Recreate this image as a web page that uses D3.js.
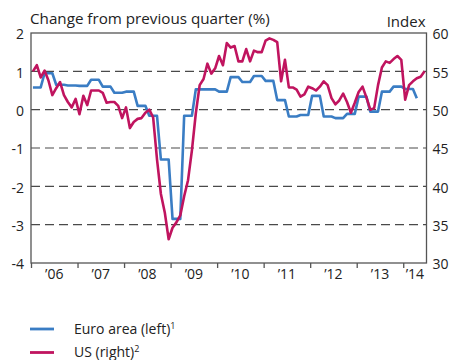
<!DOCTYPE html>
<html>
<head>
<meta charset="utf-8">
<script src="https://cdn.jsdelivr.net/npm/d3@7"></script>
<style>
  html, body { margin: 0; padding: 0; background: #fff; }
  svg { display: block; }
  text { font-family: "Open Sans", "Noto Sans", sans-serif; fill: #222; }
</style>
</head>
<body>
<svg id="chart" width="452" height="360"></svg>
<script>
// Euro area GDP, change from previous quarter (%), 2006 Q1 – 2014 Q2
const euroQuarterly = [
  0.58, 0.95, 0.65, 0.63,
  0.62, 0.78, 0.60, 0.44,
  0.47, 0.10, -0.16, -1.30,
  -2.85, -0.16, 0.53, 0.53,
  0.47, 0.85, 0.72, 0.88,
  0.75, 0.25, -0.18, -0.14,
  0.36, -0.18, -0.22, -0.11,
  0.34, -0.05, 0.47, 0.60,
  0.54, 0.30
];
// months of the last quarter that are already available
const euroLastQuarterMonths = 1;

// US manufacturing index, monthly, Jan 2006 – Jun 2014
const usIndex = [
  55.0, 55.8, 54.2, 55.1, 53.8, 51.9, 52.8, 53.6, 51.9, 51.0, 50.3, 51.4,
  49.4, 51.8, 50.6, 52.5, 52.5, 52.5, 52.2, 50.9, 51.0, 51.0, 50.5, 48.9,
  50.3, 47.6, 48.4, 48.8, 48.9, 49.6, 50.0, 49.0, 43.5, 39.0, 36.6, 33.1,
  34.6, 35.3, 36.2, 38.7, 40.8, 44.7, 49.5, 53.2, 54.0, 56.0, 54.7, 55.4,
  57.0, 55.8, 58.7, 58.1, 58.3, 56.3, 56.3, 57.9, 56.3, 57.7, 57.5, 57.5,
  59.0, 59.3, 59.1, 58.8, 53.7, 56.5, 52.9, 52.9, 52.6, 51.7, 52.0, 53.0,
  52.8, 52.5, 53.0, 53.7, 53.2, 51.5, 50.7, 51.2, 52.1, 51.0, 49.6, 50.9,
  52.3, 53.0, 51.6, 50.0, 50.2, 53.2, 55.5, 56.3, 56.1, 56.6, 57.0, 56.5,
  51.3, 53.2, 53.7, 54.1, 54.3, 55.0
];

const yearLabels = ["’06", "’07", "’08", "’09", "’10", "’11", "’12", "’13", "’14"];
const leftTicks = [2, 1, 0, -1, -2, -3, -4];
const rightTicks = [60, 55, 50, 45, 40, 35, 30];
const gridValues = [1, 0, -1, -2, -3];

const titleLeft = "Change from previous quarter (%)";
const titleRight = "Index";
const seriesNames = [
  { name: "Euro area (left)", note: "1", color: "#3a7dc4" },
  { name: "US (right)", note: "2", color: "#c0145f" }
];

const svg = d3.select("#chart");
const m = { left: 31, right: 426.5, top: 33, bottom: 263 };

// x: months since Jan 2006, chart spans 8.5 years
const x = d3.scaleLinear().domain([0, 102]).range([m.left, m.right]);
const yL = d3.scaleLinear().domain([-4, 2]).range([m.bottom, m.top]);
const yR = d3.scaleLinear().domain([30, 60]).range([m.bottom, m.top]);

// dashed reference lines
svg.append("g")
  .selectAll("line")
  .data(gridValues)
  .join("line")
  .attr("x1", m.left).attr("x2", m.right)
  .attr("y1", d => yL(d)).attr("y2", d => yL(d))
  .attr("stroke", "#4a4a4a")
  .attr("stroke-width", 1.2)
  .attr("stroke-dasharray", "9,5");

// frame
svg.append("rect")
  .attr("x", m.left).attr("y", m.top)
  .attr("width", m.right - m.left).attr("height", m.bottom - m.top)
  .attr("fill", "none")
  .attr("stroke", "#555")
  .attr("stroke-width", 1.3);

// bottom axis: year ticks, labels centred in each year
const xAxis = d3.axisBottom(x)
  .tickValues(d3.range(0, 97, 12))
  .tickSize(5)
  .tickFormat("");
const gx = svg.append("g").attr("transform", `translate(0,${m.bottom})`).call(xAxis);
gx.select(".domain").remove();
gx.selectAll(".tick line").attr("stroke", "#555").attr("stroke-width", 1.3);

svg.append("g")
  .selectAll("text")
  .data(yearLabels)
  .join("text")
  .attr("x", (d, i) => x(Math.min(i * 12 + 6, (i * 12 + 102) / 2)))
  .attr("y", 278.5)
  .attr("text-anchor", "middle")
  .attr("font-size", 14)
  .text(d => d);

// left axis labels
const gl = svg.append("g").attr("transform", `translate(${m.left},0)`)
  .call(d3.axisLeft(yL).tickValues(leftTicks).tickSize(0).tickPadding(7).tickFormat(d3.format("d")));
gl.select(".domain").remove();
gl.selectAll("text").attr("font-size", 14).attr("fill", "#222")
  .attr("font-family", "'Open Sans', 'Noto Sans', sans-serif")
  .text(d => String(d)).attr("dy", "0.42em");

// right axis labels
const gr = svg.append("g").attr("transform", `translate(${m.right},0)`)
  .call(d3.axisRight(yR).tickValues(rightTicks).tickSize(0).tickPadding(6).tickFormat(d3.format("d")));
gr.select(".domain").remove();
gr.selectAll("text").attr("font-size", 14).attr("fill", "#222")
  .attr("font-family", "'Open Sans', 'Noto Sans', sans-serif")
  .attr("dy", "0.42em");

// axis titles
svg.append("text").attr("x", m.left - 1).attr("y", 24)
  .attr("font-size", 15.2).text(titleLeft);
svg.append("text").attr("x", m.right - 1).attr("y", 26.5)
  .attr("text-anchor", "end").attr("font-size", 15).text(titleRight);

// euro area: each quarterly value held over its months
const euroPts = [];
euroQuarterly.forEach((v, q) => {
  const nMonths = q === euroQuarterly.length - 1 ? euroLastQuarterMonths : 3;
  euroPts.push([3 * q + 0.5, v]);
  if (nMonths > 1) euroPts.push([3 * q + nMonths - 0.5, v]);
});

const lineL = d3.line().x(d => x(d[0])).y(d => yL(d[1]));
svg.append("path")
  .datum(euroPts)
  .attr("d", lineL)
  .attr("fill", "none")
  .attr("stroke", seriesNames[0].color)
  .attr("stroke-width", 2.6)
  .attr("stroke-linejoin", "round");

const lineR = d3.line().x((d, i) => x(i + 0.5)).y(d => yR(d));
svg.append("path")
  .datum(usIndex)
  .attr("d", lineR)
  .attr("fill", "none")
  .attr("stroke", seriesNames[1].color)
  .attr("stroke-width", 2.6)
  .attr("stroke-linejoin", "round");

// legend
const lg = svg.append("g");
seriesNames.forEach((s, i) => {
  const yy = 329 + i * 23.5;
  lg.append("line")
    .attr("x1", 30).attr("x2", 54)
    .attr("y1", yy).attr("y2", yy)
    .attr("stroke", s.color).attr("stroke-width", 2.8);
  const t = lg.append("text").attr("x", 74).attr("y", yy + 4.5).attr("font-size", 14);
  t.append("tspan").text(s.name);
  t.append("tspan").attr("font-size", 9).attr("dy", -5).text(s.note);
});
</script>
</body>
</html>
